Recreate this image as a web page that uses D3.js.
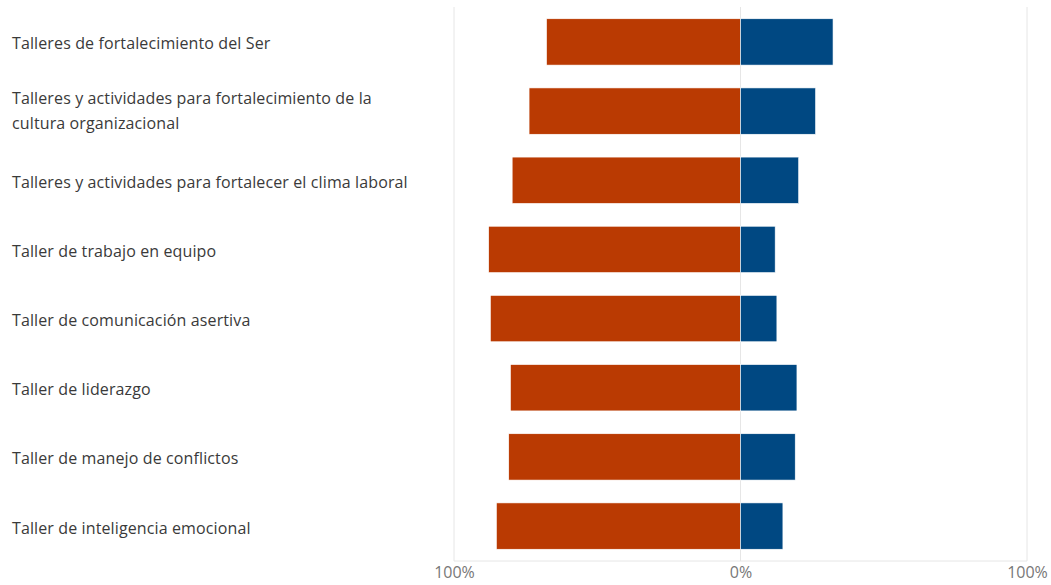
<!DOCTYPE html>
<html>
<head>
<meta charset="utf-8">
<script src="https://cdn.jsdelivr.net/npm/d3@7"></script>
<style>
  body { margin: 0; background: #fff; }
  .tick text { font-family: 'Open Sans', sans-serif; font-size: 16px; fill: #777; }
  .label { font-family: 'Open Sans', sans-serif; font-size: 16px; fill: #3a3a3a; letter-spacing: 0.12px; }
</style>
</head>
<body>
<script>
const categories = [
  ['Talleres de fortalecimiento del Ser'],
  ['Talleres y actividades para fortalecimiento de la', 'cultura organizacional'],
  ['Talleres y actividades para fortalecer el clima laboral'],
  ['Taller de trabajo en equipo'],
  ['Taller de comunicación asertiva'],
  ['Taller de liderazgo'],
  ['Taller de manejo de conflictos'],
  ['Taller de inteligencia emocional']
];
const negValues = [67.7, 73.8, 79.7, 87.9, 87.3, 80.3, 80.9, 85.2];
const posValues = [32.3, 26.2, 20.3, 12.1, 12.7, 19.7, 19.1, 14.8];
const tickValues = [-100, 0, 100];

const svgWidth = 1051;
const svgHeight = 585;

const xScale = d3.scaleLinear()
.domain([-100, 100])
.range([454, 1027]);

const yScale = d3.scaleBand()
.domain(d3.range(categories.length))
.range([7, 561])
.paddingInner(0.33)
.paddingOuter(0.17);

const svg = d3.select('body')
.append('svg')
.attr('width', svgWidth)
.attr('height', svgHeight);

// Gridlines
svg.selectAll('line.grid')
.data(tickValues)
.enter()
.append('line')
.attr('class', 'grid')
.attr('x1', d => xScale(d))
.attr('x2', d => xScale(d))
.attr('y1', 7)
.attr('y2', 561)
.attr('stroke', '#e6e6e6')
.attr('stroke-width', 1);

svg.append('line')
.attr('x1', xScale(-100))
.attr('x2', xScale(100))
.attr('y1', 561)
.attr('y2', 561)
.attr('stroke', '#e6e6e6');

// Bars
svg.selectAll('rect.neg')
.data(negValues)
.enter()
.append('rect')
.attr('class', 'neg')
.attr('x', d => xScale(-d))
.attr('y', (d, i) => yScale(i))
.attr('width', d => xScale(0) - xScale(-d))
.attr('height', yScale.bandwidth())
.attr('fill', '#ba3a02')
.attr('stroke', '#fff')
.attr('stroke-width', 0.6);

svg.selectAll('rect.pos')
.data(posValues)
.enter()
.append('rect')
.attr('class', 'pos')
.attr('x', xScale(0))
.attr('y', (d, i) => yScale(i))
.attr('width', d => xScale(d) - xScale(0))
.attr('height', yScale.bandwidth())
.attr('fill', '#004882')
.attr('stroke', '#fff')
.attr('stroke-width', 0.6);

// Category labels
const labels = svg.selectAll('text.label')
.data(categories)
.enter()
.append('text')
.attr('class', 'label')
.attr('x', 12)
.attr('y', (d, i) => yScale(i) + yScale.bandwidth() / 2);

labels.selectAll('tspan')
.data(d => d.map((line, j) => ({ line, j, n: d.length })))
.enter()
.append('tspan')
.attr('x', 12)
.attr('dy', d => d.j === 0 ? (d.n > 1 ? '-0.42em' : '0.47em') : '1.56em')
.text(d => d.line);

// Axis
const xAxis = d3.axisBottom()
.scale(xScale)
.tickValues(tickValues)
.tickSize(0)
.tickPadding(6)
.tickFormat(d => `${Math.abs(d)}%`);

svg.append('g')
.attr('class', 'axis')
.attr('transform', 'translate(0, 561)')
.call(xAxis)
.call(g => g.select('.domain').remove());
</script>
</body>
</html>
